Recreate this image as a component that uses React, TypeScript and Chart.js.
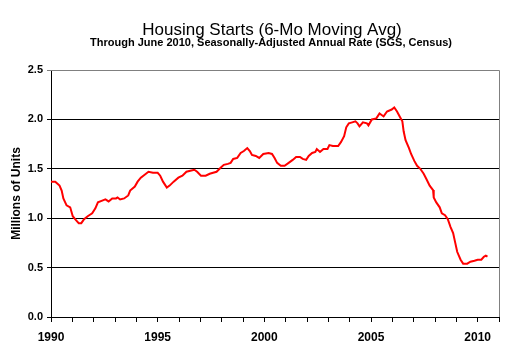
import React, { useEffect, useRef } from "react";
import { Chart, registerables } from "chart.js";

Chart.register(...registerables);

const TITLE = "Housing Starts (6-Mo Moving Avg)";
const SUBTITLE = "Through June 2010, Seasonally-Adjusted Annual Rate (SGS, Census)";
const Y_TITLE = "Millions of Units";

const years = [
  1990.0, 1990.2, 1990.4, 1990.5, 1990.58, 1990.73, 1990.9, 1991.02, 1991.17, 1991.3,
  1991.42, 1991.55, 1991.72, 1991.93, 1992.08, 1992.2, 1992.43, 1992.55, 1992.7, 1992.87,
  1993.05, 1993.12, 1993.24, 1993.43, 1993.62, 1993.71, 1993.93, 1994.06, 1994.21, 1994.39,
  1994.57, 1994.78, 1995.0, 1995.12, 1995.25, 1995.43, 1995.56, 1995.75, 1995.97, 1996.16,
  1996.35, 1996.53, 1996.72, 1996.85, 1997.03, 1997.25, 1997.44, 1997.6, 1997.76, 1997.95,
  1998.1, 1998.29, 1998.42, 1998.54, 1998.73, 1998.89, 1999.04, 1999.2, 1999.32, 1999.42,
  1999.6, 1999.76, 1999.95, 2000.2, 2000.36, 2000.48, 2000.6, 2000.77, 2000.95, 2001.14,
  2001.33, 2001.49, 2001.67, 2001.8, 2001.96, 2002.08, 2002.24, 2002.39, 2002.46, 2002.61,
  2002.77, 2002.96, 2003.05, 2003.21, 2003.46, 2003.59, 2003.74, 2003.84, 2003.96, 2004.12,
  2004.27, 2004.37, 2004.46, 2004.62, 2004.81, 2004.88, 2005.04, 2005.25, 2005.4, 2005.59,
  2005.75, 2005.97, 2006.09, 2006.22, 2006.37, 2006.47, 2006.53, 2006.62, 2006.78, 2006.88,
  2007.03, 2007.16, 2007.31, 2007.47, 2007.59, 2007.75, 2007.91, 2007.94, 2008.06, 2008.22,
  2008.32, 2008.47, 2008.6, 2008.73, 2008.85, 2008.95, 2009.04, 2009.2, 2009.32, 2009.51,
  2009.66, 2009.85, 2010.0, 2010.17, 2010.29, 2010.38, 2010.46,
];

const starts = [
  1.37, 1.37, 1.33, 1.28, 1.2, 1.13, 1.11, 1.02, 0.98, 0.95,
  0.95, 0.99, 1.02, 1.05, 1.1, 1.16, 1.18, 1.19, 1.17, 1.2,
  1.2, 1.21, 1.19, 1.2, 1.23, 1.28, 1.32, 1.37, 1.41, 1.44,
  1.47, 1.46, 1.46, 1.43, 1.37, 1.31, 1.33, 1.37, 1.41, 1.43,
  1.47, 1.48, 1.49, 1.47, 1.43, 1.43, 1.45, 1.46, 1.47, 1.51,
  1.54, 1.55, 1.56, 1.6, 1.61, 1.66, 1.68, 1.71, 1.68, 1.64,
  1.63, 1.61, 1.65, 1.66, 1.65, 1.61, 1.56, 1.53, 1.53, 1.56,
  1.59, 1.62, 1.62, 1.6, 1.59, 1.63, 1.66, 1.67, 1.7, 1.67,
  1.7, 1.7, 1.74, 1.73, 1.73, 1.77, 1.83, 1.92, 1.96, 1.97,
  1.98, 1.96, 1.93, 1.97, 1.96, 1.94, 2.0, 2.01, 2.06, 2.03,
  2.08, 2.1, 2.12, 2.08, 2.02, 1.98, 1.88, 1.79, 1.71, 1.65,
  1.58, 1.53, 1.5, 1.45, 1.4, 1.33, 1.285, 1.21, 1.16, 1.11,
  1.05, 1.03, 0.99, 0.91, 0.85, 0.75, 0.66, 0.58, 0.54, 0.54,
  0.56, 0.57, 0.58, 0.58, 0.61, 0.62, 0.61,
];

const X_MIN = 1990;
const X_MAX = 2011;
const Y_MIN = 0;
const Y_MAX = 2.5;

const FONT = "'Liberation Sans', Arial, sans-serif";

const framePlugin = {
  id: "frame",
  afterDraw(chart: any) {
    const { ctx, chartArea } = chart;
    ctx.save();
    ctx.strokeStyle = "#808080";
    ctx.lineWidth = 1;
    ctx.beginPath();
    ctx.moveTo(chartArea.left, chartArea.top + 0.5);
    ctx.lineTo(chartArea.right + 0.5, chartArea.top + 0.5);
    ctx.lineTo(chartArea.right + 0.5, chartArea.bottom);
    ctx.stroke();
    ctx.fillStyle = "#000";
    ctx.textAlign = "center";
    ctx.textBaseline = "alphabetic";
    ctx.font = `17px ${FONT}`;
    ctx.fillText(TITLE, 272, 35);
    ctx.font = `bold 11px ${FONT}`;
    ctx.fillText(SUBTITLE, 271, 46);
    ctx.restore();
  },
};

export default function App() {
  const ref = useRef<HTMLCanvasElement>(null);
  useEffect(() => {
    if (!ref.current) return;
    const data = years.map((x, i) => ({ x, y: starts[i] }));
    const chart = new Chart(ref.current, {
      type: "line",
      data: {
        datasets: [
          {
            data,
            borderColor: "#ff0000",
            borderWidth: 2,
            pointRadius: 0,
            tension: 0,
            fill: false,
          },
        ],
      },
      options: {
        animation: false,
        responsive: false,
        events: [],
        layout: { padding: { top: 70, right: 7, left: 0, bottom: 0 } },
        plugins: { legend: { display: false }, title: { display: false }, tooltip: { enabled: false } },
        scales: {
          x: {
            type: "linear",
            min: X_MIN,
            max: X_MAX,
            border: { display: true, color: "#000", width: 1 },
            grid: { drawOnChartArea: false, drawTicks: true, tickLength: 5, color: "#000" },
            ticks: {
              stepSize: 1,
              autoSkip: false,
              maxRotation: 0,
              padding: 8,
              color: "#000",
              font: { family: FONT, size: 12, weight: "bold" },
              callback: (v: any) => (Number(v) % 5 === 0 ? String(v) : ""),
            },
            afterFit: (s: any) => {
              s.height = 41;
            },
          },
          y: {
            min: Y_MIN,
            max: Y_MAX,
            border: { display: true, color: "#000", width: 1 },
            grid: {
              color: (c: any) => (c.tick && c.tick.value === Y_MAX ? "#808080" : "#000"),
              tickLength: 4,
              lineWidth: 1,
            },
            ticks: {
              stepSize: 0.5,
              padding: 4,
              color: "#000",
              font: { family: FONT, size: 11, weight: "bold" },
              callback: (v: any) => Number(v).toFixed(1),
            },
            title: {
              display: true,
              text: Y_TITLE,
              color: "#000",
              font: { family: FONT, size: 12, weight: "bold" },
              padding: { top: 9, bottom: 0 },
            },
            afterFit: (s: any) => {
              s.width = 51;
            },
          },
        },
      },
      plugins: [framePlugin],
    });
    return () => chart.destroy();
  }, []);
  return (
    <div style={{ position: "absolute", left: 0, top: 0, width: 507, height: 358, background: "#fff" }}>
      <canvas ref={ref} width={507} height={358} />
    </div>
  );
}
